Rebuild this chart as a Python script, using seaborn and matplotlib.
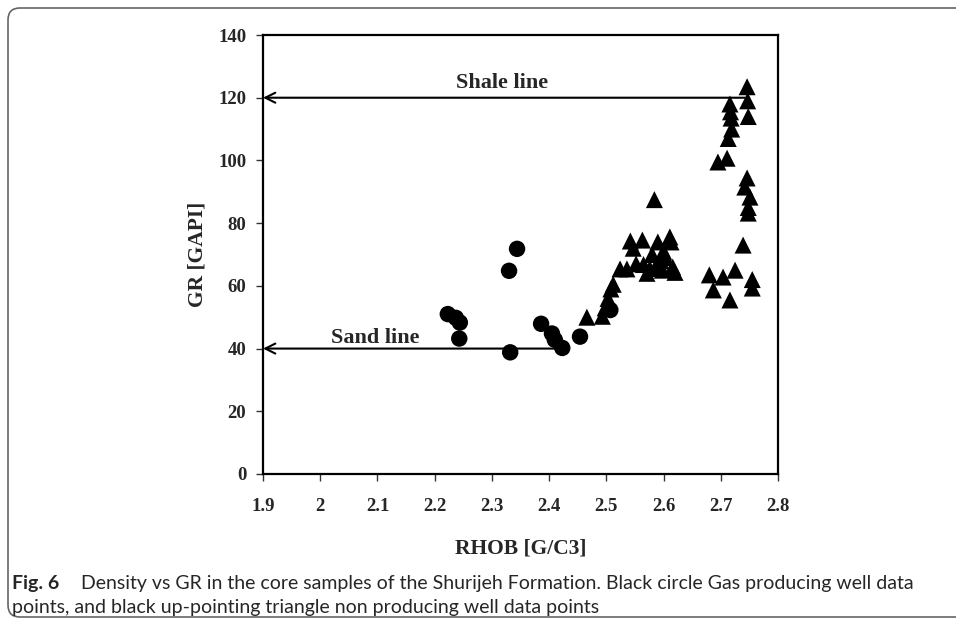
import matplotlib
matplotlib.use("Agg")
import matplotlib.pyplot as plt
import seaborn as sns
import pandas as pd
from matplotlib.patches import FancyBboxPatch

# Gas producing wells (black circles)
gas_rhob = [2.223, 2.237, 2.244, 2.243, 2.330, 2.344, 2.332, 2.386, 2.405, 2.410, 2.423, 2.454, 2.507]
gas_gr = [51.0, 49.8, 48.3, 43.2, 64.8, 71.8, 38.8, 47.9, 44.8, 42.8, 40.2, 43.8, 52.3]

# Non producing wells (black triangles)
non_rhob = [2.466, 2.493, 2.498, 2.503, 2.508, 2.512, 2.524, 2.536, 2.542, 2.547, 2.552,
            2.563, 2.565, 2.571, 2.576, 2.580, 2.584, 2.586, 2.590, 2.595, 2.598, 2.600,
            2.604, 2.611, 2.613, 2.616, 2.620,
            2.746, 2.747, 2.748, 2.716, 2.717, 2.718, 2.719, 2.713, 2.695, 2.711,
            2.746, 2.742, 2.751, 2.748, 2.748,
            2.739, 2.680, 2.704, 2.725, 2.687, 2.716, 2.755, 2.755]
non_gr = [50.0, 50.3, 53.0, 56.0, 59.0, 60.5, 65.4, 65.4, 74.3, 72.0, 67.0,
          74.6, 66.8, 64.0, 65.5, 70.0, 87.5, 66.0, 74.0, 68.0, 65.0, 71.0,
          69.0, 75.6, 74.0, 66.0, 64.3,
          123.5, 119.0, 114.0, 118.0, 115.5, 113.5, 110.0, 107.0, 99.5, 100.7,
          94.4, 91.5, 88.3, 85.0, 83.2,
          73.0, 63.5, 62.8, 65.0, 58.7, 55.5, 62.0, 59.3]

xticks = [1.9, 2.0, 2.1, 2.2, 2.3, 2.4, 2.5, 2.6, 2.7, 2.8]
xticklabels = ["1.9", "2", "2.1", "2.2", "2.3", "2.4", "2.5", "2.6", "2.7", "2.8"]
yticks = [0, 20, 40, 60, 80, 100, 120, 140]

shale_gr = 120
sand_gr = 40

sns.set_style("white")
plt.rcParams['font.family'] = ['Liberation Serif', 'DejaVu Serif']

fig = plt.figure(figsize=(9.56, 6.2), dpi=100)
ax = fig.add_axes([263/956, 1-474/620, (778-263)/956, (474-35)/620])

gas_df = pd.DataFrame({"RHOB": gas_rhob, "GR": gas_gr})
non_df = pd.DataFrame({"RHOB": non_rhob, "GR": non_gr})
sns.scatterplot(data=non_df, x="RHOB", y="GR", marker="^", s=150, color="black",
                edgecolor="none", ax=ax, zorder=3)
sns.scatterplot(data=gas_df, x="RHOB", y="GR", marker="o", s=140, color="black",
                edgecolor="none", ax=ax, zorder=3)

ax.set_xlim(1.9, 2.8)
ax.set_ylim(0, 140)
ax.set_xticks(xticks)
ax.set_xticklabels(xticklabels)
ax.set_yticks(yticks)
for lab in ax.get_xticklabels() + ax.get_yticklabels():
    lab.set_fontweight("bold")
    lab.set_fontsize(13.5)
ax.tick_params(axis="both", direction="out", length=5, width=1, color="#333333",
               left=True, bottom=True)
ax.tick_params(axis="x", pad=12)
ax.tick_params(axis="y", pad=7)
for sp in ax.spines.values():
    sp.set_visible(True)
    sp.set_color("black")
    sp.set_linewidth(1.6)

ax.set_xlabel("RHOB [G/C3]", fontsize=15.5, fontweight="bold", labelpad=17)
ax.set_ylabel("GR [GAPI]", fontsize=15.5, fontweight="bold", labelpad=8)

# Shale / sand lines
ax.annotate("", xy=(1.9, shale_gr), xytext=(2.742, shale_gr),
            arrowprops=dict(arrowstyle="->", color="black", lw=1.5,
                            shrinkA=0, shrinkB=0, mutation_scale=18))
ax.annotate("", xy=(1.9, sand_gr), xytext=(2.425, sand_gr),
            arrowprops=dict(arrowstyle="->", color="black", lw=1.5,
                            shrinkA=0, shrinkB=0, mutation_scale=18))
ax.text(2.318, 123.1, "Shale line", ha="center", va="baseline", fontsize=16,
        fontweight="bold")
ax.text(2.097, 41.8, "Sand line", ha="center", va="baseline", fontsize=16,
        fontweight="bold")

# Caption
cap_font = ['Lato', 'DejaVu Sans']
fig.text(12/956, 1-583/620, "Fig. 6", fontsize=14, fontweight="bold",
         family=cap_font, va="center", ha="left")
fig.text(81/956, 1-583/620,
         "Density vs GR in the core samples of the Shurijeh Formation. Black circle Gas producing well data",
         fontsize=14, family=cap_font, va="center", ha="left")
fig.text(12/956, 1-607/620,
         "points, and black up-pointing triangle non producing well data points",
         fontsize=14, family=cap_font, va="center", ha="left")

# Rounded frame
frame = FancyBboxPatch((8, 3), 1000, 609, boxstyle="round,pad=0,rounding_size=12",
                       transform=None, fill=False, edgecolor="#666666", lw=1.2)
fig.patches.append(frame)

fig.savefig("out.png", dpi=100)
